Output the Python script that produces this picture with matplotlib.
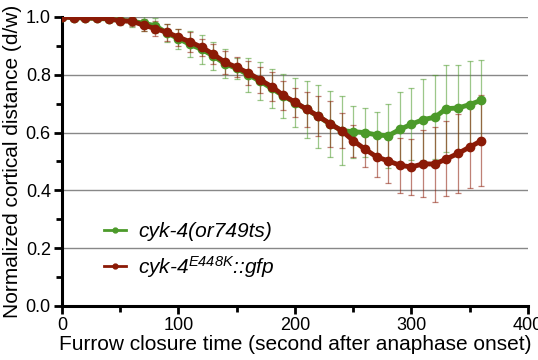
import matplotlib
matplotlib.use('Agg')
import matplotlib.pyplot as plt
from matplotlib.ticker import MultipleLocator

plt.rcParams['font.family'] = ['Liberation Sans', 'DejaVu Sans']
plt.rcParams['mathtext.fontset'] = 'custom'
plt.rcParams['mathtext.it'] = 'Liberation Sans:italic'
plt.rcParams['mathtext.rm'] = 'Liberation Sans:italic'

# time points (s after anaphase onset)
time = list(range(0, 370, 10))

# cyk-4(or749ts)
green_mean = [1.0, 0.998, 0.996, 0.995, 0.993, 0.988, 0.986, 0.978, 0.970, 0.945,
              0.925, 0.905, 0.888, 0.865, 0.838, 0.822, 0.800, 0.778, 0.753, 0.727,
              0.704, 0.680, 0.656, 0.630, 0.607, 0.603, 0.600, 0.592, 0.589, 0.611,
              0.629, 0.645, 0.653, 0.683, 0.685, 0.697, 0.712]
green_sd = [0.003, 0.005, 0.008, 0.010, 0.012, 0.015, 0.020, 0.025, 0.025, 0.030,
            0.035, 0.045, 0.050, 0.047, 0.050, 0.036, 0.058, 0.065, 0.067, 0.076,
            0.086, 0.100, 0.108, 0.113, 0.120, 0.090, 0.086, 0.080, 0.110, 0.130,
            0.125, 0.140, 0.145, 0.150, 0.150, 0.150, 0.140]

# cyk-4 E448K::gfp
red_mean = [1.0, 0.998, 0.997, 0.996, 0.994, 0.987, 0.985, 0.972, 0.960, 0.947,
            0.930, 0.914, 0.895, 0.871, 0.843, 0.826, 0.806, 0.783, 0.759, 0.729,
            0.705, 0.681, 0.657, 0.631, 0.607, 0.572, 0.543, 0.516, 0.502, 0.487,
            0.481, 0.492, 0.491, 0.509, 0.528, 0.550, 0.572]
red_sd = [0.002, 0.004, 0.006, 0.008, 0.010, 0.012, 0.015, 0.020, 0.025, 0.030,
          0.030, 0.035, 0.030, 0.035, 0.040, 0.035, 0.040, 0.045, 0.050, 0.050,
          0.050, 0.060, 0.070, 0.080, 0.062, 0.055, 0.062, 0.070, 0.077, 0.095,
          0.098, 0.116, 0.130, 0.130, 0.136, 0.143, 0.157]

green = '#4c9a2a'
red = '#8b1a06'

fig = plt.figure(figsize=(5.38, 3.6), dpi=100)
ax = fig.add_axes([0.1152, 0.15, 0.8662, 0.8028])

# error bars first, drawn light
ax.errorbar(time, green_mean, yerr=green_sd, fmt='none', ecolor=green, alpha=0.55,
            elinewidth=0.9, capsize=2.5, capthick=0.9, zorder=2)
ax.errorbar(time, red_mean, yerr=red_sd, fmt='none', ecolor=red, alpha=0.55,
            elinewidth=0.9, capsize=2.5, capthick=0.9, zorder=2)

ax.plot(time, green_mean, '-o', color=green, lw=3.5, ms=6, zorder=3)
ax.plot(time, red_mean, '-o', color=red, lw=3.5, ms=6, zorder=4)

# legend handles (thin line + small marker)
h1, = ax.plot([], [], '-o', color=green, lw=2, ms=3.5, label='cyk-4(or749ts)')
h2, = ax.plot([], [], '-o', color=red, lw=2, ms=3.5, label='cyk-4$^{E448K}$::gfp')
ax.legend(handles=[h1, h2], loc='center left', bbox_to_anchor=(0.09, 0.19),
          frameon=False, prop={'style': 'italic', 'size': 15},
          handlelength=1.05, handletextpad=0.6, labelspacing=0.6,
          borderaxespad=0, borderpad=0)

ax.set_xlim(0, 400)
ax.set_ylim(0, 1.0)
ax.xaxis.set_major_locator(MultipleLocator(100))
ax.xaxis.set_minor_locator(MultipleLocator(50))
ax.yaxis.set_major_locator(MultipleLocator(0.2))
ax.yaxis.set_minor_locator(MultipleLocator(0.1))
ax.yaxis.set_major_formatter(matplotlib.ticker.FormatStrFormatter('%.1f'))

ax.grid(True, axis='y', color='#888888', lw=1)
ax.set_axisbelow(True)
for s in ['top', 'right']:
    ax.spines[s].set_visible(False)
for s in ['left', 'bottom']:
    ax.spines[s].set_linewidth(2.2)
ax.tick_params(which='major', length=6, width=2, labelsize=13, direction='out', pad=2)
ax.tick_params(which='minor', length=4, width=2, direction='out')

ax.set_xlabel('Furrow closure time (second after anaphase onset)', fontsize=15, labelpad=1)
ax.set_ylabel('Normalized cortical distance (d/w)', fontsize=15, labelpad=3)

fig.savefig('out.png', dpi=100)
